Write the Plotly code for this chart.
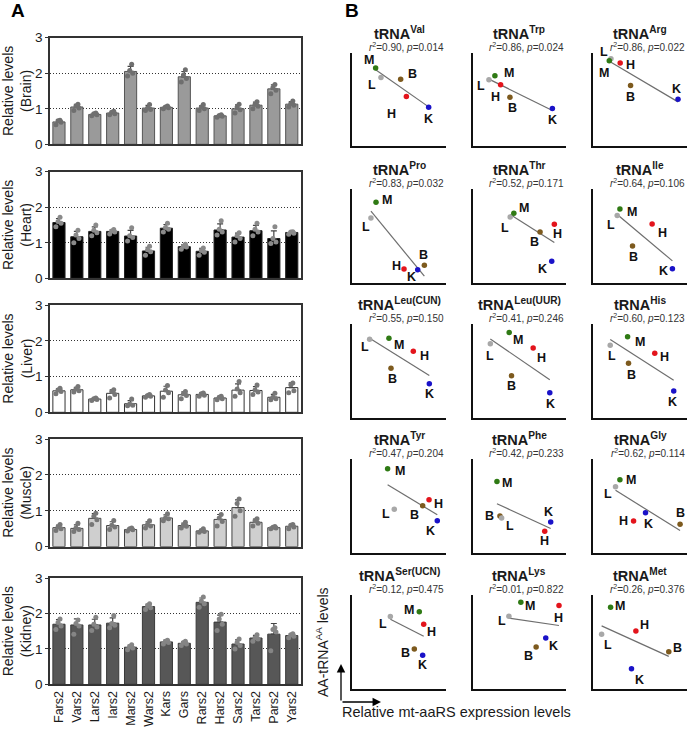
import numpy as np
import plotly.graph_objects as go

# ---------------- Panel A data ----------------
GENES = ["Fars2", "Vars2", "Lars2", "Iars2", "Mars2", "Wars2", "Kars", "Gars",
         "Rars2", "Hars2", "Sars2", "Tars2", "Pars2", "Yars2"]
TISSUES = ["Brain", "Heart", "Liver", "Muscle", "Kidney"]

BRAIN_MEAN = [0.63, 1.05, 0.84, 0.88, 2.05, 1.02, 1.04, 1.90, 1.02, 0.80, 1.00, 1.10, 1.56, 1.13]
HEART_MEAN = [1.57, 1.17, 1.32, 1.32, 1.19, 0.77, 1.41, 0.89, 0.76, 1.36, 1.16, 1.34, 1.12, 1.29]
LIVER_MEAN = [0.60, 0.63, 0.37, 0.53, 0.24, 0.46, 0.59, 0.49, 0.50, 0.40, 0.62, 0.61, 0.42, 0.69]
MUSCLE_MEAN = [0.53, 0.51, 0.79, 0.59, 0.48, 0.61, 0.80, 0.59, 0.44, 0.76, 1.09, 0.68, 0.53, 0.57]
KIDNEY_MEAN = [1.70, 1.68, 1.68, 1.73, 1.05, 2.20, 1.20, 1.16, 2.32, 1.76, 1.14, 1.31, 1.42, 1.38]

BRAIN_REPS = [[0.55, 0.62, 0.66, 0.68], [0.95, 1.02, 1.08, 1.13], [0.80, 0.83, 0.86, 0.88],
              [0.83, 0.86, 0.90, 0.93], [1.92, 2.00, 2.08, 2.25], [0.95, 0.98, 1.02, 1.12],
              [1.00, 1.03, 1.05, 1.08], [1.75, 1.85, 1.95, 2.10], [0.95, 1.00, 1.05, 1.12],
              [0.76, 0.79, 0.81, 0.83], [0.88, 0.97, 1.05, 1.13], [1.00, 1.07, 1.12, 1.20],
              [1.42, 1.52, 1.60, 1.68], [1.05, 1.10, 1.15, 1.22]]
HEART_REPS = [[1.45, 1.55, 1.60, 1.72], [1.00, 1.12, 1.22, 1.35], [1.20, 1.28, 1.35, 1.50],
              [1.25, 1.30, 1.33, 1.37], [1.05, 1.15, 1.20, 1.42], [0.65, 0.75, 0.80, 0.90],
              [1.30, 1.38, 1.43, 1.55], [0.82, 0.88, 0.90, 0.96], [0.65, 0.73, 0.78, 0.85],
              [1.22, 1.30, 1.38, 1.62], [1.02, 1.12, 1.20, 1.28], [1.20, 1.30, 1.38, 1.55],
              [0.98, 1.02, 1.12, 1.45], [1.24, 1.27, 1.30, 1.31]]
LIVER_REPS = [[0.52, 0.58, 0.62, 0.67], [0.57, 0.60, 0.65, 0.72], [0.33, 0.36, 0.38, 0.40],
              [0.40, 0.50, 0.58, 0.63], [0.18, 0.20, 0.23, 0.37], [0.42, 0.45, 0.47, 0.50],
              [0.42, 0.55, 0.62, 0.75], [0.38, 0.47, 0.52, 0.58], [0.45, 0.48, 0.52, 0.54],
              [0.35, 0.38, 0.42, 0.45], [0.45, 0.55, 0.65, 0.86], [0.50, 0.57, 0.62, 0.76],
              [0.35, 0.38, 0.42, 0.53], [0.55, 0.60, 0.77, 0.82]]
MUSCLE_REPS = [[0.45, 0.50, 0.55, 0.62], [0.42, 0.48, 0.52, 0.65], [0.62, 0.75, 0.85, 0.93],
               [0.48, 0.55, 0.60, 0.73], [0.44, 0.47, 0.50, 0.52], [0.52, 0.58, 0.62, 0.72],
               [0.72, 0.78, 0.80, 0.92], [0.52, 0.57, 0.60, 0.68], [0.40, 0.42, 0.45, 0.50],
               [0.58, 0.70, 0.80, 0.90], [0.85, 1.00, 1.20, 1.33], [0.58, 0.65, 0.72, 0.78],
               [0.50, 0.52, 0.54, 0.56], [0.50, 0.55, 0.60, 0.62]]
KIDNEY_REPS = [[1.55, 1.65, 1.75, 1.85], [1.42, 1.65, 1.72, 1.82], [1.52, 1.62, 1.70, 1.90],
               [1.60, 1.67, 1.72, 1.95], [0.98, 1.03, 1.07, 1.12], [2.12, 2.17, 2.22, 2.28],
               [1.14, 1.18, 1.22, 1.25], [1.10, 1.14, 1.18, 1.22], [2.18, 2.28, 2.36, 2.47],
               [1.52, 1.70, 1.85, 1.98], [1.00, 1.10, 1.18, 1.28], [1.22, 1.28, 1.32, 1.40],
               [0.95, 1.48, 1.55, 1.60], [1.32, 1.36, 1.40, 1.43]]

Y_TICKS_A = [0, 1, 2, 3]

# ---------------- Panel B data ----------------
TRNA_NAMES = ["Val", "Trp", "Arg", "Pro", "Thr", "Ile", "Leu(CUN)", "Leu(UUR)", "His",
              "Tyr", "Phe", "Gly", "Ser(UCN)", "Lys", "Met"]
R2_VALUES = [0.90, 0.86, 0.86, 0.83, 0.52, 0.64, 0.55, 0.41, 0.60, 0.47, 0.42, 0.62, 0.12, 0.01, 0.26]
P_VALUES = [0.014, 0.024, 0.022, 0.032, 0.171, 0.106, 0.150, 0.246, 0.123, 0.204, 0.233, 0.114,
            0.475, 0.822, 0.376]
POINT_TISSUES = ["B", "H", "L", "M", "K"]
# relative mt-aaRS expression (x), per tRNA, tissues in order B, H, L, M, K
EXPR_X = [[0.516, 0.577, 0.306, 0.249, 0.815],
          [0.399, 0.299, 0.174, 0.238, 0.854],
          [0.399, 0.288, 0.189, 0.171, 0.907],
          [0.769, 0.552, 0.199, 0.253, 0.698],
          [0.722, 0.875, 0.402, 0.441, 0.847],
          [0.420, 0.630, 0.256, 0.285, 0.847],
          [0.413, 0.651, 0.185, 0.391, 0.822],
          [0.416, 0.648, 0.189, 0.391, 0.826],
          [0.377, 0.658, 0.181, 0.367, 0.861],
          [0.751, 0.819, 0.448, 0.377, 0.907],
          [0.292, 0.772, 0.310, 0.260, 0.836],
          [0.929, 0.431, 0.238, 0.285, 0.559],
          [0.662, 0.762, 0.406, 0.715, 0.751],
          [0.680, 0.925, 0.388, 0.516, 0.783],
          [0.808, 0.456, 0.089, 0.185, 0.409]]
# AA-tRNA levels (y)
AMINO_Y = [[0.719, 0.532, 0.737, 0.838, 0.417],
           [0.525, 0.658, 0.712, 0.755, 0.403],
           [0.651, 0.892, 0.939, 0.917, 0.504],
           [0.191, 0.152, 0.695, 0.862, 0.145],
           [0.546, 0.628, 0.706, 0.745, 0.234],
           [0.397, 0.631, 0.720, 0.791, 0.156],
           [0.529, 0.711, 0.839, 0.850, 0.364],
           [0.450, 0.746, 0.793, 0.911, 0.268],
           [0.582, 0.689, 0.775, 0.868, 0.286],
           [0.504, 0.568, 0.464, 0.900, 0.343],
           [0.393, 0.229, 0.371, 0.761, 0.329],
           [0.304, 0.339, 0.707, 0.782, 0.429],
           [0.426, 0.688, 0.770, 0.823, 0.358],
           [0.447, 0.887, 0.773, 0.922, 0.543],
           [0.397, 0.617, 0.582, 0.869, 0.216]]

# ---------------- styles / positions ----------------
W, H = 688, 732
FONT = "Liberation Sans, Arial, sans-serif"
TXT = "#1a1a1a"

A_X = (50, 300.7)
A_Y = [(37.7, 144.3), (171.7, 278.3), (305, 412.3), (439, 546.7), (578.3, 684.3)]
BAR_FILL = ["#9a9a9a", "#000000", "#ffffff", "#cfcfcf", "#575757"]
BAR_EDGE = ["#555555", "#222222", "#333333", "#444444", "#3a3a3a"]
DOT_COLOR = ["#6f6f6f", "#8a8a8a", "#777777", "#777777", "#858585"]
JITTER = [-0.17, 0.12, -0.05, 0.06]

B_COLS = [(352.3, 446), (472.7, 566), (593.3, 686.7)]
B_ROWS = [(53, 146), (189.3, 283.3), (324.3, 417.7), (459.3, 552.7), (595, 689)]
PT_COLOR = {"B": "#7d5a1e", "H": "#e3141c", "L": "#a8a8a8", "M": "#2f7a14", "K": "#1a12c8"}
# label offsets (px right, px down) for B, H, L, M, K
LABEL_SHIFT = [[(12, -5), (-15, 17), (-9, 8), (-7, -8), (0, 12)],
               [(3, 11), (-5, 12), (-8, 6), (14, -3), (0, 11)],
               [(0, 12), (10, 2), (-7, -7), (-5, 12), (-2, -10)],
               [(-1, -10), (-8, -3), (-5, 9), (11, -2), (-6, 7)],
               [(-6, 10), (3, 10), (-5, 11), (10, -5), (-9, 8)],
               [(1, 11), (10, 9), (-6, 9), (12, 3), (-9, 2)],
               [(1, 11), (11, 5), (-5, 8), (10, 7), (0, 10)],
               [(0, 10), (8, 10), (0, 12), (9, 7), (1, 11)],
               [(3, 12), (10, 4), (2, 11), (12, 5), (-1, 11)],
               [(-8, 9), (9, 4), (-8, 5), (12, 2), (-7, 10)],
               [(-10, 0), (0, 10), (8, 8), (10, 1), (-2, -10)],
               [(0, -11), (-10, 0), (-8, 7), (11, 0), (3, 11)],
               [(-9, 4), (8, 8), (-7, 7), (-10, -2), (0, 10)],
               [(-8, 9), (-1, 12), (-7, 5), (9, 4), (8, 8)],
               [(9, -4), (9, -6), (6, 11), (9, -1), (8, 11)]]


def px(xp):
    return xp / W


def py(yp):
    return 1 - yp / H


fig = go.Figure()
layout = {}
annotations = []


def ax_names(i):
    s = "" if i == 1 else str(i)
    return "xaxis" + s, "yaxis" + s, "x" + s, "y" + s


# ---------------- Panel A ----------------
means_all = [BRAIN_MEAN, HEART_MEAN, LIVER_MEAN, MUSCLE_MEAN, KIDNEY_MEAN]
reps_all = [BRAIN_REPS, HEART_REPS, LIVER_REPS, MUSCLE_REPS, KIDNEY_REPS]
xpos = np.arange(len(GENES))
for t, tissue in enumerate(TISSUES):
    i = t + 1
    xa, ya, xr, yr = ax_names(i)
    means = np.array(means_all[t])
    reps = np.array(reps_all[t])
    sd = reps.std(axis=1, ddof=1)
    fig.add_trace(go.Bar(
        x=xpos, y=means, xaxis=xr, yaxis=yr, width=0.68,
        marker=dict(color=BAR_FILL[t], line=dict(color=BAR_EDGE[t], width=1)),
        error_y=dict(type="data", symmetric=False, array=sd, arrayminus=np.zeros_like(sd),
                     color="#444444", thickness=1.2, width=3),
        showlegend=False, hoverinfo="skip"))
    dx, dy = [], []
    for g in range(len(GENES)):
        for k, v in enumerate(reps[g]):
            dx.append(g + JITTER[k % len(JITTER)])
            dy.append(v)
    fig.add_trace(go.Scatter(
        x=dx, y=dy, mode="markers", xaxis=xr, yaxis=yr,
        marker=dict(size=5, color=DOT_COLOR[t]), showlegend=False, hoverinfo="skip"))
    last = (t == len(TISSUES) - 1)
    layout[xa] = dict(
        domain=[px(A_X[0]), px(A_X[1])], anchor=yr, range=[-0.5, len(GENES) - 0.5],
        showline=True, linecolor="#333333", linewidth=1.5, mirror=True, automargin=False,
        showgrid=False, zeroline=False, ticks="",
        tickmode="array", tickvals=list(xpos), ticktext=GENES,
        showticklabels=last, tickangle=-90,
        tickfont=dict(family=FONT, size=12.5, color=TXT))
    layout[ya] = dict(
        domain=[py(A_Y[t][1]), py(A_Y[t][0])], anchor=xr, range=[0, 3],
        showline=True, linecolor="#333333", linewidth=1.5, mirror=True, automargin=False,
        tickmode="array", tickvals=Y_TICKS_A, ticks="outside", ticklen=3,
        tickcolor="#333333", tickfont=dict(family=FONT, size=13.5, color=TXT),
        showgrid=True, gridcolor="#333333", griddash="1px,2px", gridwidth=1, zeroline=False)
    annotations.append(dict(
        text=f"Relative levels<br>({tissue})", xref="paper", yref="paper",
        x=px(17), y=py((A_Y[t][0] + A_Y[t][1]) / 2), textangle=-90,
        showarrow=False, font=dict(family=FONT, size=14, color=TXT),
        xanchor="center", yanchor="middle"))

# ---------------- Panel B ----------------
for n, name in enumerate(TRNA_NAMES):
    i = 6 + n
    xa, ya, xr, yr = ax_names(i)
    r, c = divmod(n, 3)
    x0, x1 = B_COLS[c]
    y0, y1 = B_ROWS[r]
    xs = np.array(EXPR_X[n])
    ys = np.array(AMINO_Y[n])
    slope, icpt = np.polyfit(xs, ys, 1)
    lx = np.array([xs.min(), xs.max()])
    fig.add_trace(go.Scatter(
        x=lx, y=slope * lx + icpt, mode="lines", xaxis=xr, yaxis=yr,
        line=dict(color="#6e6e6e", width=1.2), showlegend=False, hoverinfo="skip"))
    fig.add_trace(go.Scatter(
        x=xs, y=ys, mode="markers", xaxis=xr, yaxis=yr,
        marker=dict(size=5.5, color=[PT_COLOR[k] for k in POINT_TISSUES]),
        showlegend=False, hoverinfo="skip"))
    for k, lab in enumerate(POINT_TISSUES):
        sx, sy = LABEL_SHIFT[n][k]
        annotations.append(dict(
            text=f"<b>{lab}</b>", x=xs[k], y=ys[k], xref=xr, yref=yr,
            xshift=sx, yshift=-sy, showarrow=False,
            font=dict(family=FONT, size=12.5, color="#111111")))
    layout[xa] = dict(domain=[px(x0), px(x1)], anchor=yr, range=[0, 1], automargin=False,
                      showline=True, linecolor="#111111", linewidth=1.5,
                      showgrid=False, zeroline=False, showticklabels=False, ticks="")
    layout[ya] = dict(domain=[py(y1), py(y0)], anchor=xr, range=[0, 1], automargin=False,
                      showline=True, linecolor="#111111", linewidth=1.5,
                      showgrid=False, zeroline=False, showticklabels=False, ticks="")
    annotations.append(dict(
        text=f"<b>tRNA<sup>{name}</sup></b>", xref="paper", yref="paper",
        x=px((x0 + x1) / 2), y=py(y0 - 9), xanchor="center", yanchor="bottom",
        showarrow=False, font=dict(family=FONT, size=14.5, color=TXT)))
    annotations.append(dict(
        text=f"<i>r</i><sup>2</sup>={R2_VALUES[n]:.2f}, <i>p</i>={P_VALUES[n]:.3f}",
        xref="paper", yref="paper", x=px(x1), y=py(y0 + 1.5),
        xanchor="right", yanchor="bottom", showarrow=False,
        font=dict(family=FONT, size=10, color="#333333")))

# panel letters
annotations.append(dict(text="<b>A</b>", xref="paper", yref="paper", x=px(18), y=py(11),
                        showarrow=False, font=dict(family=FONT, size=19, color="#000000"),
                        xanchor="center", yanchor="middle"))
annotations.append(dict(text="<b>B</b>", xref="paper", yref="paper", x=px(352), y=py(10),
                        showarrow=False, font=dict(family=FONT, size=19, color="#000000"),
                        xanchor="center", yanchor="middle"))

# axis legend arrows for panel B
annotations.append(dict(x=px(341), y=py(664), xref="paper", yref="paper", ax=0, ay=38,
                        axref="pixel", ayref="pixel", text="", showarrow=True,
                        arrowhead=2, arrowsize=1.3, arrowwidth=1.3, arrowcolor="#000000"))
annotations.append(dict(x=px(381), y=py(702), xref="paper", yref="paper", ax=-40, ay=0,
                        axref="pixel", ayref="pixel", text="", showarrow=True,
                        arrowhead=2, arrowsize=1.3, arrowwidth=1.3, arrowcolor="#000000"))
annotations.append(dict(text="AA-tRNA<sup>AA</sup> levels", xref="paper", yref="paper",
                        x=px(322), y=py(642), textangle=-90, showarrow=False,
                        font=dict(family=FONT, size=14, color=TXT),
                        xanchor="center", yanchor="middle"))
annotations.append(dict(text="Relative mt-aaRS expression levels", xref="paper", yref="paper",
                        x=px(340), y=py(712), xanchor="left", yanchor="middle", showarrow=False,
                        font=dict(family=FONT, size=14.5, color=TXT)))

fig.update_layout(
    width=W, height=H, margin=dict(l=0, r=0, t=0, b=0, autoexpand=False),
    paper_bgcolor="white", plot_bgcolor="white",
    font=dict(family=FONT, color=TXT), annotations=annotations,
    barmode="overlay", **layout)

fig.write_html("out.html", config={"displayModeBar": False},
               post_script="document.body.style.margin='0';document.body.style.overflow='hidden';")
